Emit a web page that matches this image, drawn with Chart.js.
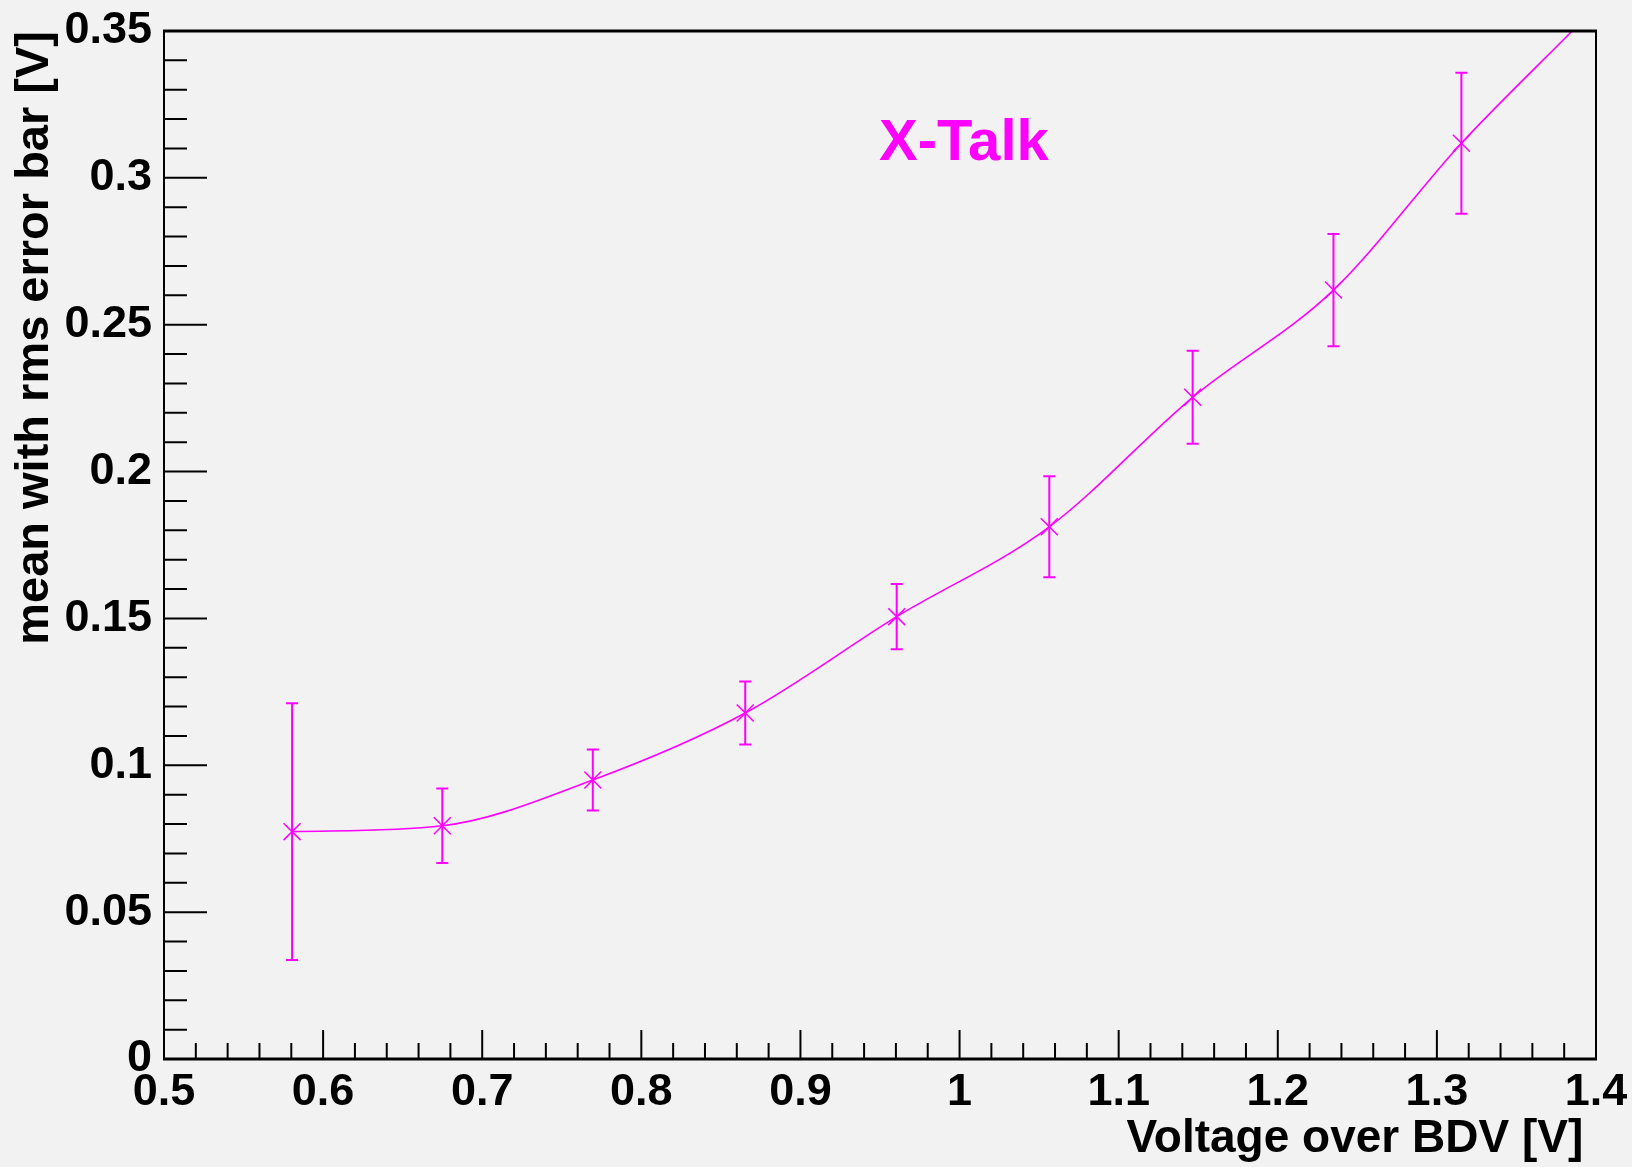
<!DOCTYPE html>
<html>
<head>
<meta charset="utf-8">
<script src="https://cdn.jsdelivr.net/npm/chart.js@4.4.1/dist/chart.umd.min.js"></script>
<style>
    html, body { margin: 0; padding: 0; background: #f2f2f2; }
    #wrap { width: 1632px; height: 1167px; }
</style>
</head>
<body>
<div id="wrap"><canvas id="xtalk" width="1632" height="1167"></canvas></div>
<script>
// X-Talk mean vs voltage over breakdown
const voltage = [0.5805, 0.6749, 0.7695, 0.8653, 0.9605, 1.0564, 1.1465, 1.2350, 1.3154];
const mean    = [0.0774, 0.0794, 0.0950, 0.1178, 0.1506, 0.1812, 0.2253, 0.2618, 0.3118];
const rms     = [0.0437, 0.0127, 0.0104, 0.0107, 0.0111, 0.0172, 0.0158, 0.0191, 0.0240];

// smooth curve through the points, it keeps going up to the top of the frame
const curveX = voltage.concat([1.385]);
const curveY = mean.concat([0.350]);

const xRange = [0.5, 1.4];
const yRange = [0, 0.35];
const xStep = 0.1, xMinor = 0.02;
const yStep = 0.05, yMinor = 0.01;

const magenta = '#ff00ff';
const fontFam = '"Liberation Sans", Arial, Helvetica, sans-serif';

// ROOT prints 0.1, 1 ... not 0.10, 1.0
function rootLabel(v) {
    return String(parseFloat(v.toFixed(3)));
}

// error bars (rms)
const errorBars = {
    id: 'errorBars',
    afterDatasetsDraw(chart) {
        const ctx = chart.ctx;
        const xs = chart.scales.x, ys = chart.scales.y;
        ctx.save();
        ctx.strokeStyle = magenta;
        ctx.lineWidth = 2;
        for (let i = 0; i < voltage.length; i++) {
            const px = xs.getPixelForValue(voltage[i]);
            const top = ys.getPixelForValue(mean[i] + rms[i]);
            const bot = ys.getPixelForValue(mean[i] - rms[i]);
            ctx.beginPath();
            ctx.moveTo(px, top); ctx.lineTo(px, bot);
            ctx.moveTo(px - 6, top); ctx.lineTo(px + 6, top);
            ctx.moveTo(px - 6, bot); ctx.lineTo(px + 6, bot);
            ctx.stroke();
        }
        ctx.restore();
    }
};

// ROOT style frame with inward ticks
const frame = {
    id: 'frame',
    afterDraw(chart) {
        const ctx = chart.ctx;
        const a = chart.chartArea;
        const xs = chart.scales.x, ys = chart.scales.y;
        ctx.save();
        ctx.strokeStyle = '#000';

        ctx.lineWidth = 2;
        ctx.beginPath();
        const nx = Math.round((xRange[1] - xRange[0]) / xMinor);
        for (let i = 0; i <= nx; i++) {
            const px = xs.getPixelForValue(xRange[0] + i * xMinor);
            const len = i % 5 === 0 ? 29 : 16;
            ctx.moveTo(px, a.bottom); ctx.lineTo(px, a.bottom - len);
        }
        const ny = Math.round((yRange[1] - yRange[0]) / yMinor);
        for (let i = 0; i <= ny; i++) {
            const py = ys.getPixelForValue(yRange[0] + i * yMinor);
            const len = i % 5 === 0 ? 43 : 23;
            ctx.moveTo(a.left, py); ctx.lineTo(a.left + len, py);
        }
        ctx.stroke();

        ctx.beginPath();
        ctx.moveTo(a.left, a.top); ctx.lineTo(a.left, a.bottom);
        ctx.moveTo(a.right, a.top); ctx.lineTo(a.right, a.bottom);
        ctx.stroke();
        ctx.lineWidth = 3;
        ctx.beginPath();
        ctx.moveTo(a.left - 1, a.top); ctx.lineTo(a.right + 1, a.top);
        ctx.moveTo(a.left - 1, a.bottom); ctx.lineTo(a.right + 1, a.bottom);
        ctx.stroke();

        // label
        ctx.fillStyle = magenta;
        ctx.font = 'bold 58px ' + fontFam;
        ctx.textBaseline = 'alphabetic';
        ctx.fillText('X-Talk', 879, 160);
        ctx.restore();
    }
};

const ctx = document.getElementById('xtalk').getContext('2d');
const chart = new Chart(ctx, {
    type: 'scatter',
    data: {
        datasets: [
            {
                label: 'curve',
                type: 'line',
                data: curveX.map((x, i) => ({ x: x, y: curveY[i] })),
                borderColor: magenta,
                borderWidth: 1.6,
                pointRadius: 0,
                fill: false,
                cubicInterpolationMode: 'monotone'
            },
            {
                label: 'X-Talk',
                data: voltage.map((x, i) => ({ x: x, y: mean[i] })),
                pointStyle: 'crossRot',
                pointRadius: 12,
                borderColor: magenta,
                backgroundColor: magenta,
                borderWidth: 1.5
            }
        ]
    },
    options: {
        responsive: false,
        animation: false,
        events: [],
        layout: { padding: { top: 31, right: 36, left: 0, bottom: 0 } },
        plugins: {
            legend: { display: false },
            tooltip: { enabled: false }
        },
        scales: {
            x: {
                type: 'linear',
                min: xRange[0],
                max: xRange[1],
                grid: { display: false, drawTicks: false },
                border: { display: false },
                ticks: {
                    stepSize: xStep,
                    color: '#000',
                    padding: 7,
                    maxRotation: 0,
                    callback: rootLabel,
                    font: { family: fontFam, size: 45, weight: 'bold' }
                },
                title: {
                    display: true,
                    text: 'Voltage over BDV [V] ',
                    align: 'end',
                    color: '#000',
                    padding: 0,
                    font: { family: fontFam, size: 46, weight: 'bold' }
                },
                afterFit(scale) {
                    scale.height = 108;
                    scale.paddingLeft = 0;
                    scale.paddingRight = 0;
                }
            },
            y: {
                type: 'linear',
                min: yRange[0],
                max: yRange[1],
                grid: { display: false, drawTicks: false },
                border: { display: false },
                ticks: {
                    stepSize: yStep,
                    color: '#000',
                    padding: 12,
                    callback: rootLabel,
                    font: { family: fontFam, size: 45, weight: 'bold' }
                },
                title: {
                    display: true,
                    text: 'mean with rms error bar [V]',
                    align: 'end',
                    color: '#000',
                    padding: { top: 7, bottom: 0 },
                    font: { family: fontFam, size: 47, weight: 'bold' }
                },
                afterFit(scale) {
                    scale.width = 164;
                    scale.paddingTop = 0;
                    scale.paddingBottom = 0;
                }
            }
        }
    },
    plugins: [errorBars, frame]
});
</script>
</body>
</html>
